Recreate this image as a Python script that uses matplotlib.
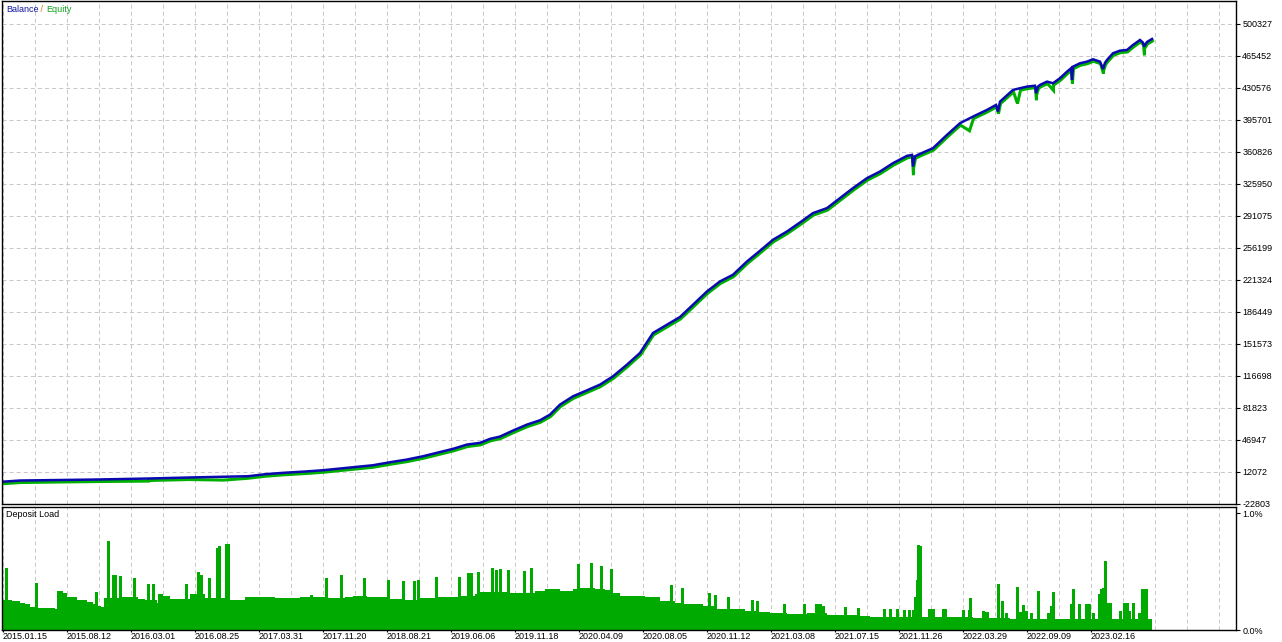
import matplotlib
matplotlib.use("Agg")
import matplotlib.pyplot as plt
from matplotlib.transforms import offset_copy

# balance curve, x is the deal index along the tester axis
bal_x = [3, 20, 97, 148, 188, 248, 265, 283, 305, 323, 340, 357, 373, 390, 407,
         423, 440, 453, 467, 480, 490, 500, 513, 527, 540, 550, 560, 573, 587,
         600, 613, 627, 640, 653, 667, 680, 693, 707, 720, 733, 747, 760, 773,
         787, 800, 813, 827, 840, 853, 867, 880, 893, 907, 912, 913, 915, 920,
         933, 947, 960, 973, 987, 996, 998, 1000, 1013, 1020, 1027, 1035, 1036,
         1038, 1040, 1047, 1053, 1060, 1067, 1071, 1072, 1073, 1080, 1087, 1093,
         1100, 1103, 1105, 1107, 1113, 1120, 1127, 1133, 1140, 1143, 1144, 1147,
         1152]
bal_y = [1000, 2264, 3353, 4443, 5533, 6950, 9130, 10655, 12072, 13489, 15342,
         17194, 18938, 22208, 25150, 28747, 33324, 36812, 41498, 43351, 47710,
         50217, 56756, 63295, 67982, 74194, 85092, 94138, 100677, 106889, 115935,
         128686, 141437, 163234, 172280, 180672, 194077, 208572, 219471, 226773,
         241268, 252929, 264917, 273963, 283772, 294016, 299465, 310364, 321262,
         332161, 339354, 348509, 356465, 357500, 344804, 356000, 358645, 364857,
         379352, 392103, 399296, 406598, 412000, 404746, 415644, 428395, 430248,
         431992, 433000, 424798, 432000, 433844, 437441, 435697, 441146, 448339,
         452000, 439293, 453788, 457494, 459238, 461853, 459238, 451192, 458000,
         461090, 468392, 471226, 471989, 477438, 482887, 480000, 475587, 480708,
         483977]

# equity drawdowns below balance
eq_dip_x = [148, 223, 913, 969, 1017, 1036, 1053, 1072, 1103, 1144]
eq_dip_y = [3800, 4900, 337611, 386000, 415644, 419349, 430000, 437500, 448339, 468392]

# deposit load (%), base level and spikes
load_base_x = [3, 12, 20, 25, 30, 37, 55, 57, 63, 67, 77, 87, 93, 97, 101, 104,
               122, 138, 145, 157, 158, 163, 170, 190, 205, 230, 245, 275, 300,
               310, 313, 327, 345, 353, 367, 390, 403, 420, 437, 460, 475, 480,
               510, 535, 545, 560, 573, 580, 595, 605, 612, 620, 640, 645, 660,
               675, 683, 703, 716, 730, 745, 757, 770, 787, 807, 827, 860, 870,
               925, 973, 1010, 1152]
load_base_y = [0.256, 0.25, 0.233, 0.22, 0.2, 0.19, 0.18, 0.333, 0.314, 0.28,
               0.256, 0.237, 0.225, 0.205, 0.194, 0.271, 0.28, 0.262, 0.256,
               0.228, 0.305, 0.29, 0.265, 0.305, 0.274, 0.256, 0.28, 0.271, 0.28,
               0.3, 0.285, 0.276, 0.285, 0.29, 0.28, 0.262, 0.256, 0.271, 0.28,
               0.29, 0.308, 0.325, 0.319, 0.333, 0.348, 0.333, 0.35, 0.362, 0.35,
               0.342, 0.314, 0.293, 0.29, 0.28, 0.248, 0.233, 0.222, 0.205, 0.18,
               0.177, 0.162, 0.151, 0.143, 0.137, 0.143, 0.126, 0.12, 0.109,
               0.109, 0.103, 0.091, 0.085]

load_spike_x = [5, 35, 95, 107, 112, 114, 119, 133, 147, 152, 185, 197, 200, 208,
                216, 218, 225, 227, 325, 340, 363, 387, 402, 413, 417, 435, 458,
                467, 470, 477, 491, 495, 499, 507, 523, 530, 577, 590, 600, 610,
                670, 681, 708, 714, 727, 751, 756, 783, 803, 815, 817, 819, 822,
                844, 857, 883, 889, 896, 903, 908, 912, 914, 916, 917, 919, 928,
                930, 932, 942, 944, 962, 968, 969, 982, 984, 986, 997, 1001, 1005,
                1016, 1019, 1022, 1025, 1030, 1037, 1047, 1050, 1052, 1070, 1072,
                1078, 1085, 1088, 1092, 1098, 1100, 1102, 1104, 1107, 1109, 1119,
                1123, 1126, 1128, 1132, 1138, 1141, 1143, 1145]
load_spike_y = [0.532, 0.40, 0.327, 0.76, 0.47, 0.47, 0.46, 0.447, 0.393, 0.393,
                0.393, 0.498, 0.47, 0.45, 0.70, 0.72, 0.741, 0.741, 0.45, 0.47,
                0.447, 0.427, 0.419, 0.419, 0.427, 0.456, 0.456, 0.49, 0.49,
                0.498, 0.532, 0.519, 0.527, 0.519, 0.504, 0.536, 0.564, 0.579,
                0.547, 0.521, 0.385, 0.362, 0.319, 0.297, 0.285, 0.256, 0.25,
                0.222, 0.222, 0.22, 0.22, 0.22, 0.205, 0.194, 0.185, 0.177, 0.177,
                0.177, 0.171, 0.171, 0.171, 0.285, 0.433, 0.732, 0.718, 0.177,
                0.177, 0.177, 0.177, 0.177, 0.171, 0.171, 0.271, 0.162, 0.156,
                0.156, 0.393, 0.248, 0.143, 0.365, 0.156, 0.214, 0.162, 0.143,
                0.336, 0.143, 0.205, 0.322, 0.222, 0.356, 0.222, 0.222, 0.222,
                0.143, 0.305, 0.348, 0.362, 0.59, 0.228, 0.228, 0.162, 0.228,
                0.228, 0.162, 0.228, 0.148, 0.356, 0.356, 0.356]

date_labels = ["2015.01.15", "2015.08.12", "2016.03.01", "2016.08.25",
               "2017.03.31", "2017.11.20", "2018.08.21", "2019.06.06",
               "2019.11.18", "2020.04.09", "2020.08.05", "2020.11.12",
               "2021.03.08", "2021.07.15", "2021.11.26", "2022.03.29",
               "2022.09.09", "2023.02.16"]

bal_ticks = [-22803, 12072, 46947, 81823, 116698, 151573, 186449, 221324,
             256199, 291075, 325950, 360826, 395701, 430576, 465452, 500327]

BLUE = "#0A0AB0"
GREEN = "#00B000"
BAR_GREEN = "#00AA00"
GRID = "#C8C8C8"

plt.rcParams["font.family"] = ["Liberation Sans", "DejaVu Sans"]
plt.rcParams["font.size"] = 6.5
plt.rcParams["lines.scale_dashes"] = False

W, H = 1282, 642
fig = plt.figure(figsize=(W / 100, H / 100), dpi=100)


def px_axes(x0, y0, x1, y1):
    return fig.add_axes([x0 / W, 1 - y1 / H, (x1 - x0) / W, (y1 - y0) / H])


ax = px_axes(2, 1, 1236, 503.5)
ax2 = px_axes(2, 506.5, 1236, 630)

grid_x = list(range(3, 1236, 32))
date_x = [3 + 64 * i for i in range(len(date_labels))]
minor_x = [g for g in grid_x if g not in date_x]

for a in (ax, ax2):
    a.set_xlim(2, 1236)
    for s in a.spines.values():
        s.set_linewidth(1.0)
    a.yaxis.tick_right()
    a.set_xticks(date_x)
    a.set_xticks(minor_x, minor=True)
    a.grid(True, which="both", axis="x", color=GRID, lw=0.72,
           linestyle=(0, (2.9, 2.2)))
    a.set_axisbelow(True)
    a.tick_params(axis="y", length=3, width=0.8, pad=1.5, labelsize=6.5)
    a.tick_params(axis="x", which="minor", length=0)

# top panel: balance / equity
ax.set_ylim(-22803, 525400)
ax.set_yticks(bal_ticks)
ax.set_yticklabels([str(v) for v in bal_ticks])
ax.grid(True, axis="y", color=GRID, lw=0.72, linestyle=(0, (2.9, 2.2)))
ax.tick_params(axis="x", which="both", length=0, labelbottom=False)

eq_pts = sorted(zip(bal_x + eq_dip_x, bal_y + eq_dip_y))
eq_x = [p[0] for p in eq_pts]
eq_y = [p[1] for p in eq_pts]
shifted = offset_copy(ax.transData, fig=fig, x=0.5, y=-2, units="dots")
ax.plot(eq_x, eq_y, color=GREEN, lw=2.2, transform=shifted,
        solid_joinstyle="miter")
ax.plot(bal_x, bal_y, color=BLUE, lw=1.8, solid_joinstyle="miter")

t1 = ax.annotate("Balance", xy=(0, 1), xycoords="axes fraction",
                 xytext=(4, -8), textcoords="offset pixels",
                 va="center", ha="left", color="#1018A0", fontsize=6.5)
t2 = ax.annotate(" / ", xy=(1, 0), xycoords=t1, va="bottom", ha="left",
                 color="#D07810", fontsize=6.5)
ax.annotate("Equity", xy=(1, 0), xycoords=t2, va="bottom", ha="left",
            color="#10A020", fontsize=6.5)

# bottom panel: deposit load
ax2.set_ylim(0, 1.06)
ax2.set_yticks([0, 1.0])
ax2.set_yticklabels(["0.0%", "1.0%"])
ax2.fill_between(load_base_x, 0, load_base_y, step="post",
                 color=BAR_GREEN, lw=0)
ax2.bar(load_spike_x, load_spike_y, width=2.5, align="edge",
        color=BAR_GREEN, lw=0)
ax2.set_xticklabels(date_labels, ha="left")
ax2.tick_params(axis="x", which="major", length=1.4, width=0.8, pad=0,
                labelsize=6.5)
for lbl in ax2.get_xticklabels():
    lbl.set_horizontalalignment("left")

ax2.annotate("Deposit Load", xy=(0, 1), xycoords="axes fraction",
             xytext=(4, -8), textcoords="offset pixels",
             va="center", ha="left", color="black", fontsize=6.5)

fig.savefig("out.png", dpi=100)
